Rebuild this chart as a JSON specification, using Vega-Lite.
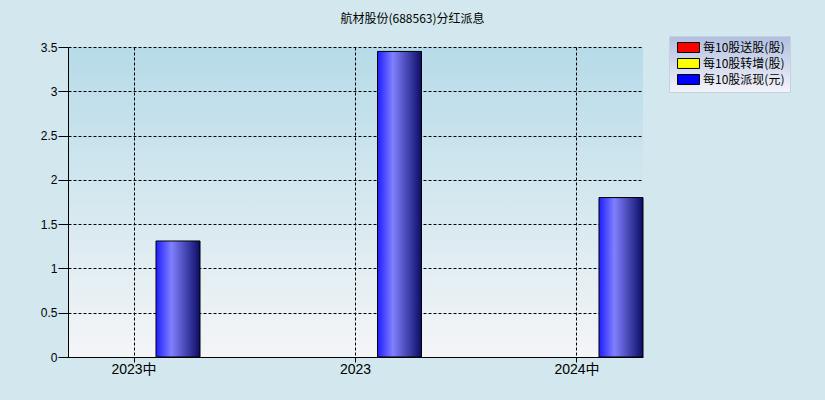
{
  "$schema": "https://vega.github.io/schema/vega-lite/v6.json",
  "autosize": {"type": "none"},
  "width": 575,
  "height": 310,
  "padding": {"left": 68, "top": 47, "right": 182, "bottom": 43},
  "background": "#d2e7ee",
  "title": {
    "text": "航材股份(688563)分红派息",
    "font": "Noto Sans CJK SC",
    "fontSize": 12,
    "fontWeight": "normal",
    "color": "#000000",
    "anchor": "middle",
    "frame": "group",
    "dx": 57,
    "offset": 10
  },
  "config": {
    "view": {
      "stroke": null,
      "fill": {"gradient": "linear", "x1": 0, "y1": 0, "x2": 0, "y2": 1,
        "stops": [{"offset": 0, "color": "#b6dbe8"}, {"offset": 1, "color": "#f4f5f7"}]}
    }
  },
  "data": {
    "values": [
      {"period": "2023中", "series": "每10股派现(元)", "value": 1.31},
      {"period": "2023", "series": "每10股派现(元)", "value": 3.45},
      {"period": "2024中", "series": "每10股派现(元)", "value": 1.8}
    ]
  },
  "encoding": {
    "x": {
      "field": "period", "type": "nominal", "sort": ["2023中", "2023", "2024中"],
      "scale": {"paddingInner": 0.404, "paddingOuter": 0},
      "axis": {
        "title": null, "labelAngle": 0, "bandPosition": 0.5,
        "grid": true, "gridColor": "#000000", "gridDash": [3, 2], "gridOpacity": 1, "gridWidth": 1,
        "domainColor": "#000000", "domainWidth": 1,
        "ticks": true, "tickColor": "#000000", "tickSize": 5,
        "labelFont": "Liberation Sans, Noto Sans CJK SC", "labelFontSize": 14, "labelColor": "#000000", "labelPadding": 0
      }
    },
    "xOffset": {
      "field": "series", "type": "nominal",
      "scale": {"domain": ["每10股送股(股)", "每10股转增(股)", "每10股派现(元)"], "paddingInner": 0, "paddingOuter": 0}
    },
    "y": {
      "field": "value", "type": "quantitative",
      "scale": {"domain": [0, 3.5], "nice": false},
      "axis": {
        "title": null, "values": [0, 0.5, 1, 1.5, 2, 2.5, 3, 3.5], "format": "~g",
        "grid": true, "gridColor": "#000000", "gridDash": [3, 2], "gridOpacity": 1, "gridWidth": 1,
        "domainColor": "#000000", "domainWidth": 1,
        "tickColor": "#000000", "tickSize": 10,
        "labelFont": "Liberation Sans", "labelFontSize": 12, "labelColor": "#000000", "labelPadding": 1
      }
    }
  },
  "layer": [
    {
      "mark": {"type": "bar"},
      "encoding": {
        "color": {
          "field": "series", "type": "nominal",
          "scale": {"domain": ["每10股送股(股)", "每10股转增(股)", "每10股派现(元)"], "range": ["#ff0000", "#ffff00", "#0000ff"]},
          "legend": {
            "title": null, "orient": "none", "legendX": 601, "legendY": -11,
            "symbolType": "M-1.83,-0.83H1.83V0.83H-1.83Z", "symbolSize": 144,
            "symbolOffset": 8,
            "symbolStrokeColor": "#000000", "symbolStrokeWidth": 1, "symbolOpacity": 1,
            "labelFont": "Noto Sans CJK SC", "labelFontSize": 12, "labelColor": "#000000",
            "labelOffset": 8, "rowPadding": 1, "padding": 5,
            "strokeColor": "#c8d0e0",
            "encode": {
              "legend": {"update": {"width": {"value": 119}, "fill": {"value": {"gradient": "linear", "x1": 0, "y1": 0, "x2": 0, "y2": 1,
                "stops": [{"offset": 0, "color": "#b0bfe0"}, {"offset": 1, "color": "#f4f4fa"}]}}}},
              "symbols": {"update": {"stroke": {"value": "#000000"}, "strokeWidth": {"value": 1}}}
            }
          }
        }
      }
    },
    {
      "mark": {
        "type": "bar", "stroke": "#000000", "strokeWidth": 1,
        "color": {"gradient": "linear", "x1": 0, "y1": 0, "x2": 1, "y2": 0,
          "stops": [{"offset": 0, "color": "#1e1eff"}, {"offset": 0.35, "color": "#8080ff"}, {"offset": 1, "color": "#0c0c66"}]}
      }
    }
  ]
}
